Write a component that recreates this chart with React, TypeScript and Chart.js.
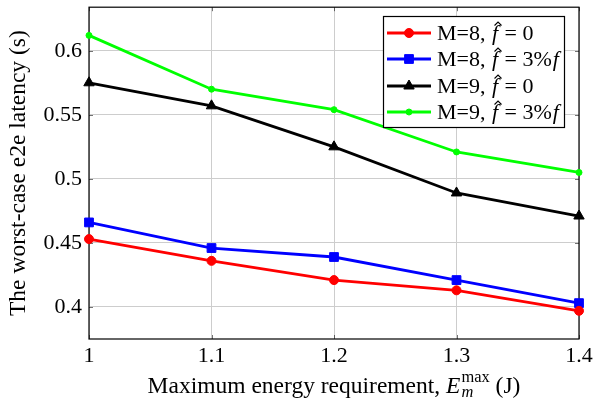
import React, { useEffect, useRef } from 'react';
import { Chart, registerables } from 'chart.js';

Chart.register(...registerables);

const xValues = [1, 1.1, 1.2, 1.3, 1.4];
const m8f0 = [0.453, 0.436, 0.421, 0.413, 0.397];
const m8f3 = [0.466, 0.446, 0.439, 0.421, 0.403];
const m9f0 = [0.575, 0.557, 0.525, 0.489, 0.471];
const m9f3 = [0.612, 0.570, 0.554, 0.521, 0.505];
const xTicks = [1, 1.1, 1.2, 1.3, 1.4];
const yTicks = [0.4, 0.45, 0.5, 0.55, 0.6];
const legendPrefix = ['M=8, ', 'M=8, ', 'M=9, ', 'M=9, '];
const legendValue = ['0', '3%', '0', '3%'];
const legendValueF = [false, true, false, true];
const yTitle = 'The worst-case e2e latency (s)';
const xTitleMain = 'Maximum energy requirement, ';
const xTitleVar = 'E';
const xTitleSub = 'm';
const xTitleSup = 'max';
const xTitleUnit = ' (J)';

const FONT = '"Liberation Serif", "Times New Roman", serif';
const FS = 22;
const TFS = 23.5;

function drawMarker(ctx: CanvasRenderingContext2D, style: string, x: number, y: number, r: number, color: string) {
  ctx.save();
  ctx.fillStyle = color;
  ctx.strokeStyle = color;
  ctx.lineWidth = 1;
  ctx.beginPath();
  if (style === 'circle') {
    ctx.arc(x, y, r, 0, Math.PI * 2);
  } else if (style === 'rect') {
    const s = Math.SQRT1_2 * r;
    ctx.rect(x - s, y - s, 2 * s, 2 * s);
  } else if (style === 'triangle') {
    let rad = 0;
    ctx.moveTo(x + Math.sin(rad) * r, y - Math.cos(rad) * r);
    rad += (2 * Math.PI) / 3;
    ctx.lineTo(x + Math.sin(rad) * r, y - Math.cos(rad) * r);
    rad += (2 * Math.PI) / 3;
    ctx.lineTo(x + Math.sin(rad) * r, y - Math.cos(rad) * r);
    ctx.closePath();
  }
  ctx.fill();
  ctx.stroke();
  ctx.restore();
}

function drawFHat(ctx: CanvasRenderingContext2D, x: number, y: number, hat: boolean): number {
  ctx.font = `italic ${FS}px ${FONT}`;
  ctx.fillText('f', x + 1, y);
  const w = ctx.measureText('f').width + 2;
  if (hat) {
    ctx.save();
    ctx.lineWidth = 1.1;
    ctx.beginPath();
    const cx = x + w / 2 + 3;
    ctx.moveTo(cx - 3.5, y - 14.5);
    ctx.lineTo(cx, y - 18);
    ctx.lineTo(cx + 3.5, y - 14.5);
    ctx.stroke();
    ctx.restore();
  }
  return w;
}

const framePlugin = {
  id: 'frame',
  beforeDatasetsDraw(chart: any) {
    const { ctx, chartArea: a } = chart;
    ctx.save();
    ctx.strokeStyle = 'rgba(0,0,0,0.55)';
    ctx.lineWidth = 1;
    const xs = chart.scales.x;
    const ys = chart.scales.y;
    ctx.beginPath();
    xTicks.forEach((v) => {
      const px = Math.round(xs.getPixelForValue(v)) + 0.5;
      ctx.moveTo(px, a.bottom);
      ctx.lineTo(px, a.bottom - 4);
      ctx.moveTo(px, a.top);
      ctx.lineTo(px, a.top + 4);
    });
    yTicks.forEach((v) => {
      const py = Math.round(ys.getPixelForValue(v)) + 0.5;
      ctx.moveTo(a.left, py);
      ctx.lineTo(a.left + 4, py);
      ctx.moveTo(a.right, py);
      ctx.lineTo(a.right - 4, py);
    });
    ctx.stroke();
    ctx.strokeStyle = '#000';
    ctx.lineWidth = 1.2;
    ctx.strokeRect(a.left, a.top, a.right - a.left, a.bottom - a.top);
    ctx.restore();
  },
  afterDraw(chart: any) {
    const { ctx, chartArea: a } = chart;
    ctx.save();
    // x title
    ctx.fillStyle = '#000';
    ctx.textBaseline = 'alphabetic';
    ctx.font = `${TFS}px ${FONT}`;
    const w1 = ctx.measureText(xTitleMain).width;
    ctx.font = `italic ${TFS}px ${FONT}`;
    const w2 = ctx.measureText(xTitleVar).width;
    ctx.font = `italic ${TFS * 0.7}px ${FONT}`;
    const w3 = ctx.measureText(xTitleSub).width;
    ctx.font = `${TFS * 0.7}px ${FONT}`;
    const w4 = ctx.measureText(xTitleSup).width;
    ctx.font = `${TFS}px ${FONT}`;
    const w5 = ctx.measureText(xTitleUnit).width;
    const total = w1 + w2 + 1 + Math.max(w3, w4) + w5;
    let x = (a.left + a.right) / 2 - total / 2;
    const by = 393;
    ctx.font = `${TFS}px ${FONT}`;
    ctx.fillText(xTitleMain, x, by);
    x += w1;
    ctx.font = `italic ${TFS}px ${FONT}`;
    ctx.fillText(xTitleVar, x, by);
    x += w2 + 1;
    ctx.font = `italic ${TFS * 0.7}px ${FONT}`;
    ctx.fillText(xTitleSub, x, by + 4);
    ctx.font = `${TFS * 0.7}px ${FONT}`;
    ctx.fillText(xTitleSup, x, by - 11);
    x += Math.max(w3, w4);
    ctx.font = `${TFS}px ${FONT}`;
    ctx.fillText(xTitleUnit, x, by);

    // legend
    const lx = 383, ly = 16, lw = 181, lh = 111;
    ctx.fillStyle = '#fff';
    ctx.fillRect(lx, ly, lw, lh);
    ctx.strokeStyle = '#000';
    ctx.lineWidth = 1.2;
    ctx.strokeRect(lx + 0.5, ly + 0.5, lw, lh);
    const rows = [33, 59, 86, 112];
    chart.data.datasets.forEach((ds: any, i: number) => {
      const ry = rows[i];
      ctx.strokeStyle = ds.borderColor;
      ctx.lineWidth = ds.borderWidth;
      ctx.beginPath();
      ctx.moveTo(387, ry);
      ctx.lineTo(431, ry);
      ctx.stroke();
      drawMarker(ctx, ds.pointStyle, 409, ry, ds.pointRadius, ds.borderColor);
      ctx.fillStyle = '#000';
      ctx.strokeStyle = '#000';
      const ty = ry + 7;
      let tx = 437;
      ctx.font = `${FS}px ${FONT}`;
      ctx.fillText(legendPrefix[i], tx, ty);
      tx += ctx.measureText(legendPrefix[i]).width;
      tx += drawFHat(ctx, tx, ty, true);
      ctx.font = `${FS}px ${FONT}`;
      const eq = ' = ' + legendValue[i];
      ctx.fillText(eq, tx, ty);
      tx += ctx.measureText(eq).width;
      if (legendValueF[i]) drawFHat(ctx, tx, ty, false);
    });
    ctx.restore();
  },
};

export default function App() {
  const ref = useRef<HTMLCanvasElement | null>(null);
  useEffect(() => {
    if (!ref.current) return;
    const mk = (vals: number[]) => vals.map((v, i) => ({ x: xValues[i], y: v }));
    const chart = new Chart(ref.current, {
      type: 'line',
      data: {
        datasets: [
          { label: 'M=8, f=0', data: mk(m8f0), borderColor: '#ff0000', backgroundColor: '#ff0000', borderWidth: 2.8, pointStyle: 'circle', pointRadius: 4.5, pointBorderWidth: 1, clip: false } as any,
          { label: 'M=8, f=3%f', data: mk(m8f3), borderColor: '#0000ff', backgroundColor: '#0000ff', borderWidth: 2.8, pointStyle: 'rect', pointRadius: 6.2, pointBorderWidth: 1, clip: false } as any,
          { label: 'M=9, f=0', data: mk(m9f0), borderColor: '#000000', backgroundColor: '#000000', borderWidth: 2.8, pointStyle: 'triangle', pointRadius: 6, pointBorderWidth: 1, clip: false } as any,
          { label: 'M=9, f=3%f', data: mk(m9f3), borderColor: '#00ff00', backgroundColor: '#00ff00', borderWidth: 2.8, pointStyle: 'circle', pointRadius: 3, pointBorderWidth: 1, clip: false } as any,
        ],
      },
      options: {
        responsive: false,
        animation: false,
        layout: { padding: { left: 0, right: 14, top: 5, bottom: 0 } },
        plugins: { legend: { display: false }, tooltip: { enabled: false } },
        scales: {
          x: {
            type: 'linear',
            min: 1,
            max: 1.4,
            afterBuildTicks: (s: any) => { s.ticks = xTicks.map((v) => ({ value: v })); },
            afterFit: (s: any) => { s.height = 64; s.paddingLeft = 0; s.paddingRight = 0; },
            ticks: { color: '#000', font: { family: FONT, size: FS }, padding: 4, maxRotation: 0, autoSkip: false, callback: (v: any) => String(v) },
            grid: { color: 'rgb(205,205,205)', lineWidth: 1, drawTicks: false },
            border: { display: false },
          },
          y: {
            type: 'linear',
            min: 0.375,
            max: 0.634,
            afterBuildTicks: (s: any) => { s.ticks = yTicks.map((v) => ({ value: v })); },
            afterFit: (s: any) => { s.width = 89; s.paddingTop = 0; s.paddingBottom = 0; },
            ticks: { color: '#000', font: { family: FONT, size: FS }, padding: 7, autoSkip: false, callback: (v: any) => String(v) },
            grid: { color: 'rgb(205,205,205)', lineWidth: 1, drawTicks: false },
            border: { display: false },
            title: { display: true, text: yTitle, color: '#000', font: { family: FONT, size: TFS }, padding: { top: 5, bottom: 0 } },
          },
        },
      },
      plugins: [framePlugin],
    });
    return () => chart.destroy();
  }, []);
  return (
    <div style={{ position: 'fixed', left: 0, top: 0, width: 593, height: 403, background: '#fff' }}>
      <canvas ref={ref} width={593} height={403} style={{ width: 593, height: 403, display: 'block' }} />
    </div>
  );
}
